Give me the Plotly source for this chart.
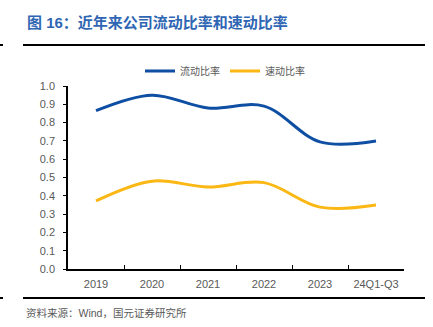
import plotly.graph_objects as go

categories = ["2019", "2020", "2021", "2022", "2023", "24Q1-Q3"]
current_ratio = [0.865, 0.95, 0.88, 0.89, 0.695, 0.70]
quick_ratio = [0.372, 0.48, 0.448, 0.472, 0.338, 0.35]
y_ticks = [0.0, 0.1, 0.2, 0.3, 0.4, 0.5, 0.6, 0.7, 0.8, 0.9, 1.0]

W, H = 433, 327
L, R, T, B = 68, 29, 86, 58
pw, ph = W - L - R, H - T - B

def px(x):
    return (x - L) / pw

def py(y):
    return (H - B - y) / ph

fig = go.Figure()
fig.add_trace(go.Scatter(x=categories, y=current_ratio, name="流动比率", mode="lines",
                         line=dict(color="#0F4FA3", width=3, shape="spline", smoothing=1.0)))
fig.add_trace(go.Scatter(x=categories, y=quick_ratio, name="速动比率", mode="lines",
                         line=dict(color="#FBB714", width=3, shape="spline", smoothing=1.0)))

cjk = "Noto Sans CJK SC"
fig.update_layout(
    width=W, height=H,
    margin=dict(l=L, r=R, t=T, b=B),
    paper_bgcolor="white", plot_bgcolor="white",
    font=dict(family="Liberation Sans, " + cjk, color="#595959", size=11),
    showlegend=True,
    legend=dict(orientation="h", x=px(225), xanchor="center", y=py(71), yanchor="middle",
                font=dict(size=10, family=cjk, color="#595959"), itemwidth=30,
                bgcolor="rgba(0,0,0,0)"),
    xaxis=dict(type="category", range=[-0.5, 5.5], showline=True, linecolor="#000000",
               linewidth=1.5, ticks="inside", ticklen=4, tickcolor="#000000",
               tickson="boundaries", showgrid=False, zeroline=False, ticklabelstandoff=4,
               tickfont=dict(size=11, color="#595959")),
    yaxis=dict(range=[0, 1.0], tickvals=y_ticks, tickformat=".1f", showline=True,
               linecolor="#000000", linewidth=1.5, ticks="outside", ticklen=3,
               tickcolor="#000000", showgrid=False, zeroline=False, ticklabelstandoff=6,
               tickfont=dict(size=11, color="#595959")),
)

fig.add_annotation(xref="paper", yref="paper", x=px(25), y=py(22), xanchor="left", yanchor="middle",
                   text="<b>图 16：近年来公司流动比率和速动比率</b>", showarrow=False,
                   font=dict(size=15, color="#2F66B3", family="Liberation Sans, " + cjk))
fig.add_annotation(xref="paper", yref="paper", x=px(24), y=py(313), xanchor="left", yanchor="middle",
                   text="资料来源：Wind，国元证券研究所", showarrow=False,
                   font=dict(size=10.5, color="#595959", family="Liberation Sans, " + cjk))

for yy in (45, 298):
    fig.add_shape(type="line", xref="paper", yref="paper", x0=px(23), x1=px(425),
                  y0=py(yy), y1=py(yy), line=dict(color="#000000", width=2))
    fig.add_shape(type="line", xref="paper", yref="paper", x0=px(0), x1=px(3),
                  y0=py(yy), y1=py(yy), line=dict(color="#000000", width=2))

fig.write_html("out.html")
